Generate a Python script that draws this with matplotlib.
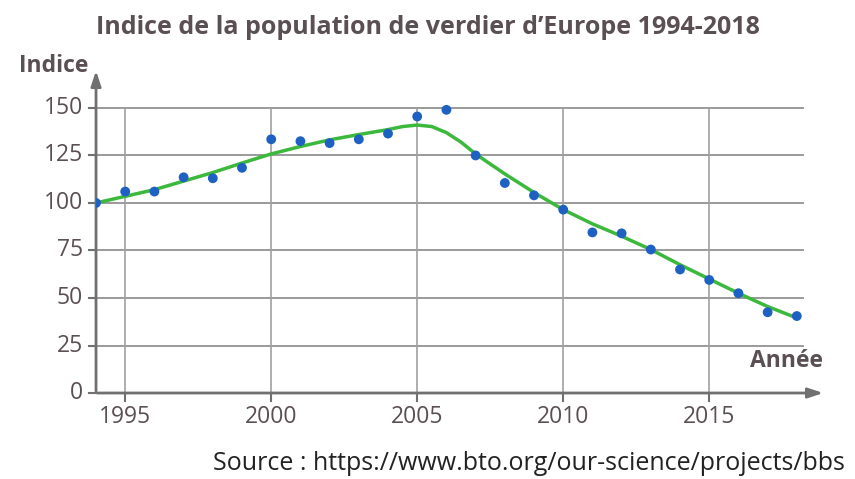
import matplotlib
matplotlib.use("Agg")
import matplotlib.pyplot as plt

# observed index values (points)
years = list(range(1994, 2019))
index_obs = [100, 106, 106, 113.5, 113, 118.5, 133.5, 132.5, 131.5, 133.5, 136.5,
             145.5, 149, 125, 110.5, 104, 96.5, 84.5, 84, 75.5, 65, 59.5, 52.5, 42.5, 40.5]

# smoothed trend (green curve)
trend_years = [1994, 1995, 1996, 1997, 1998, 1999, 2000, 2001, 2002, 2003, 2003.5,
               2004, 2004.5, 2005, 2005.5, 2006, 2006.5, 2007, 2007.5, 2008, 2009,
               2010, 2011, 2012, 2013, 2014, 2015, 2016, 2017, 2018]
trend = [100, 103.5, 107, 111.5, 116, 121, 125.8, 129.7, 133.2, 136, 137.3,
         138.6, 140.2, 141, 140.2, 137, 132, 125.8, 120.5, 115.3, 105.5,
         96.5, 89, 82.5, 75.5, 67.5, 60, 52.5, 45.5, 39.5]

yticks = [0, 25, 50, 75, 100, 125, 150]
xticks = [1995, 2000, 2005, 2010, 2015]

txt = "#5a4f53"
axc = "#707070"
plt.rcParams["font.family"] = ["Open Sans", "DejaVu Sans"]

fig = plt.figure(figsize=(8.55, 4.79), dpi=100)
ax = fig.add_axes([0.1123, 0.1795, 0.8538, 0.6785])
ax.set_xlim(1994, 2019)
ax.set_ylim(0, 171)
for s in ax.spines.values():
    s.set_visible(False)
ax.set_xticks([])
ax.set_yticks([])

# grid
for y in yticks[1:]:
    ax.plot([1994, 2018.2], [y, y], color="#9a9a9a", lw=1.4, zorder=1)
for x in xticks:
    ax.plot([x, x], [0, 150], color="#a0a0a0", lw=1.2, zorder=1)

# axes with arrows
ax.annotate("", xy=(2019, 0), xytext=(1993.95, 0),
            arrowprops=dict(arrowstyle="-|>,head_length=0.9,head_width=0.3", color=axc, lw=2),
            annotation_clip=False, zorder=3)
ax.annotate("", xy=(1994, 171), xytext=(1994, -0.5),
            arrowprops=dict(arrowstyle="-|>,head_length=0.9,head_width=0.3", color=axc, lw=2),
            annotation_clip=False, zorder=3)

# ticks and labels
for y in yticks:
    ax.plot([1993.75, 1994], [y, y], color=axc, lw=1.5, clip_on=False)
    ax.text(1993.55, y, str(y), ha="right", va="center", fontsize=16.5, color=txt)
for x in xticks:
    ax.plot([x, x], [0, -4], color=axc, lw=1.5, clip_on=False)
    ax.text(x, -6.5, str(x), ha="center", va="top", fontsize=16.5, color=txt)

ax.plot(trend_years, trend, color="#3cb83c", lw=2.5, zorder=4, solid_capstyle="round")
ax.scatter(years, index_obs, s=50, color="#1f61c2", zorder=5, edgecolors="none")

ax.text(2018.9, 10.5, "Année", ha="right", va="bottom", fontsize=16.5, fontweight="bold", color=txt)
fig.text(0.103, 0.862, "Indice", ha="right", va="center", fontsize=16.5, fontweight="bold", color=txt)
fig.text(0.501, 0.943, "Indice de la population de verdier d\u2019Europe 1994-2018",
         ha="center", va="center", fontsize=18, fontweight="bold", color=txt)
fig.text(0.988, 0.033, "Source : https://www.bto.org/our-science/projects/bbs",
         ha="right", va="center", fontsize=18, color="#222222")

fig.savefig("out.png", dpi=100)
